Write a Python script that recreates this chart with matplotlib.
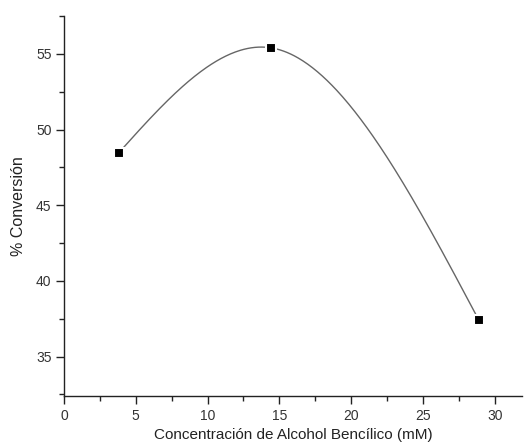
import numpy as np
import matplotlib
matplotlib.use("Agg")
import matplotlib.pyplot as plt
from matplotlib.ticker import MultipleLocator

plt.rcParams['font.family'] = ['Liberation Sans', 'DejaVu Sans']

# concentración (mM) y % de conversión
conc = [3.8, 14.4, 28.9]
conversion = [48.45, 55.4, 37.4]


def natural_spline(x, y, n=300):
    # spline cúbico natural a través de los puntos
    x = np.asarray(x, float)
    y = np.asarray(y, float)
    k = len(x)
    h = np.diff(x)
    A = np.zeros((k, k))
    b = np.zeros(k)
    A[0, 0] = A[-1, -1] = 1
    for i in range(1, k - 1):
        A[i, i - 1] = h[i - 1]
        A[i, i] = 2 * (h[i - 1] + h[i])
        A[i, i + 1] = h[i]
        b[i] = 6 * ((y[i + 1] - y[i]) / h[i] - (y[i] - y[i - 1]) / h[i - 1])
    M = np.linalg.solve(A, b)
    xs = np.linspace(x[0], x[-1], n)
    idx = np.clip(np.searchsorted(x, xs) - 1, 0, k - 2)
    x0, x1 = x[idx], x[idx + 1]
    hh = x1 - x0
    ys = (M[idx] * (x1 - xs) ** 3 / (6 * hh) + M[idx + 1] * (xs - x0) ** 3 / (6 * hh)
          + (y[idx] / hh - M[idx] * hh / 6) * (x1 - xs)
          + (y[idx + 1] / hh - M[idx + 1] * hh / 6) * (xs - x0))
    return xs, ys


fig = plt.figure(figsize=(5.25, 4.47), dpi=100)
ax = fig.add_axes([64 / 525, 51 / 447, 458 / 525, 380 / 447])

xs, ys = natural_spline(conc, conversion)
ax.plot(xs, ys, color='#666666', lw=1.0, zorder=2)
ax.plot(conc, conversion, ls='none', marker='s', ms=6.5, color='black',
        mec='white', mew=1.5, zorder=3)

ax.set_xlim(0, 31.9)
ax.set_ylim(32.4, 57.5)
ax.xaxis.set_major_locator(MultipleLocator(5))
ax.xaxis.set_minor_locator(MultipleLocator(2.5))
ax.yaxis.set_major_locator(MultipleLocator(5))
ax.yaxis.set_minor_locator(MultipleLocator(2.5))

for s in ['top', 'right']:
    ax.spines[s].set_visible(False)
for s in ['left', 'bottom']:
    ax.spines[s].set_linewidth(1.0)
    ax.spines[s].set_color('#222222')

ax.tick_params(which='major', direction='out', length=6, width=1.0,
               color='#222222', labelsize=10, labelcolor='#333333', pad=3)
ax.tick_params(which='minor', direction='out', length=3.5, width=1.0, color='#222222')

ax.set_xlabel('Concentración de Alcohol Bencílico (mM)', fontsize=11,
              color='#222222', labelpad=4)
ax.set_ylabel('% Conversión', fontsize=11.5, color='#222222', labelpad=7)

fig.savefig('out.png', dpi=100)
